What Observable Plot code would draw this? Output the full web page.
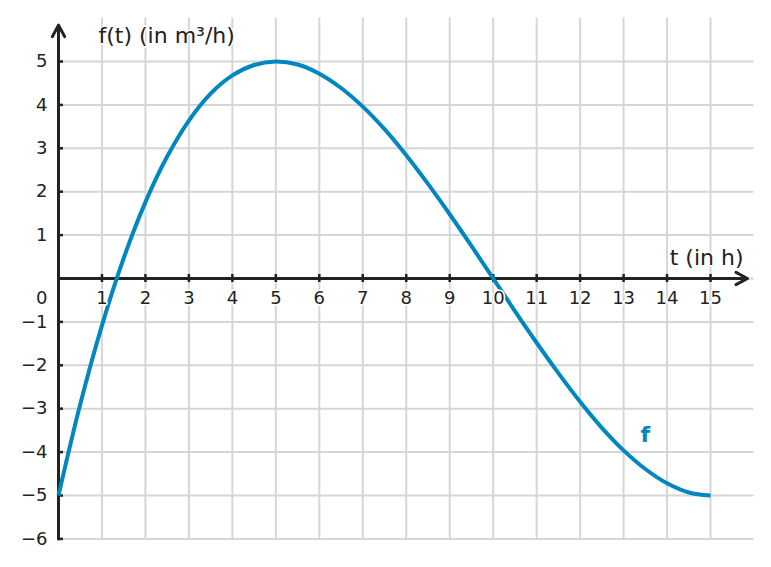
<!DOCTYPE html>
<html>
<head>
<meta charset="utf-8">
<script src="https://cdn.jsdelivr.net/npm/d3@7"></script>
<script src="https://cdn.jsdelivr.net/npm/@observablehq/plot@0.6"></script>
<style>
  html, body { margin: 0; padding: 0; background: #fff; }
</style>
</head>
<body>
<div id="chart"></div>
<script>
// Values
const tValues = [0, 0.5, 1, 1.5, 2, 2.5, 3, 3.5, 4, 4.5, 5, 5.5, 6, 6.5, 7, 7.5, 8, 8.5, 9, 9.5, 10, 10.5, 11, 11.5, 12, 12.5, 13, 13.5, 14, 14.5, 15];
const fValues = [-5, -2.9, -1.08, 0.47, 1.76, 2.81, 3.64, 4.26, 4.68, 4.92, 5, 4.93, 4.72, 4.39, 3.96, 3.44, 2.84, 2.18, 1.48, 0.75, 0, -0.75, -1.48, -2.18, -2.84, -3.44, -3.96, -4.39, -4.72, -4.93, -5];

const xTicks = [1, 2, 3, 4, 5, 6, 7, 8, 9, 10, 11, 12, 13, 14, 15];
const yTicks = [-6, -5, -4, -3, -2, -1, 1, 2, 3, 4, 5];
const yTickLabels = ["−6", "−5", "−4", "−3", "−2", "−1", "1", "2", "3", "4", "5"];
const yGrid = [-6, -5, -4, -3, -2, -1, 0, 1, 2, 3, 4, 5];
const xDomain = [0, 16];
const yDomain = [-6, 6];
const yAxisTitle = "f(t) (in m³/h)";
const xAxisTitle = "t (in h)";
const curveLabel = [{text: "f", t: 13.5, v: -3.6}];
const originLabel = "0";

const curveData = tValues.map((t, i) => ({t, f: fValues[i]}));
const yTickData = yTicks.map((v, i) => ({v, label: yTickLabels[i]}));

const ink = "#222";
const blue = "#0087bf";
const gridColor = "#d6d6d6";

const chart = Plot.plot({
  width: 771,
  height: 567,
  marginLeft: 58,
  marginRight: 17.5,
  marginTop: 17.6,
  marginBottom: 28.6,
  style: {fontFamily: "DejaVu Sans", background: "#fff", color: ink},
  x: {domain: xDomain, axis: null},
  y: {domain: yDomain, axis: null},
  marks: [
    // grid
    Plot.ruleY(yGrid, {y: d => d, stroke: gridColor, strokeWidth: 2}),
    Plot.ruleX(xTicks, {x: d => d, stroke: gridColor, strokeWidth: 2}),
    // axes with arrows
    Plot.arrow([0], {x1: xDomain[0], y1: yDomain[0], x2: xDomain[0], y2: yDomain[1], insetEnd: 7, stroke: ink, strokeWidth: 3, headLength: 6.5, headAngle: 56}),
    Plot.arrow([0], {x1: xDomain[0], y1: 0, x2: xDomain[1], y2: 0, insetEnd: 6.5, stroke: ink, strokeWidth: 3, headLength: 6.5, headAngle: 56}),
    // tick marks
    Plot.ruleX(xTicks, {x: d => d, y1: 0, y2: 0, insetTop: -4, insetBottom: -4, stroke: ink, strokeWidth: 2.5}),
    Plot.ruleY(yTicks, {y: d => d, x1: 0, x2: 0, insetRight: -5, stroke: ink, strokeWidth: 2.5}),
    // curve
    Plot.line(curveData, {x: "t", y: "f", stroke: blue, strokeWidth: 4, curve: "catmull-rom", strokeLinecap: "butt"}),
    // tick labels
    Plot.text(xTicks, {x: d => d, y: 0, dy: 19.5, text: d => String(d), fontSize: 18, fill: ink, stroke: "#fff", strokeWidth: 3}),
    Plot.text([originLabel], {x: 0, y: 0, dy: 19.5, dx: -11, textAnchor: "end", text: d => d, fontSize: 18, fill: ink}),
    Plot.text(yTickData, {x: 0, y: "v", dx: -11, textAnchor: "end", text: "label", fontSize: 18, fill: ink}),
    // axis titles
    Plot.text([yAxisTitle], {frameAnchor: "top-left", lineAnchor: "middle", dx: 40, dy: 17.4, textAnchor: "start", text: d => d, fontSize: 22, fill: ink, stroke: "#fff", strokeWidth: 3}),
    Plot.text([xAxisTitle], {frameAnchor: "right", lineAnchor: "middle", y: 0, dx: -10.5, dy: -21, textAnchor: "end", text: d => d, fontSize: 22, fill: ink, stroke: "#fff", strokeWidth: 3}),
    // curve label
    Plot.text(curveLabel, {x: "t", y: "v", text: "text", fontSize: 22, fontWeight: "bold", fill: blue})
  ]
});
document.getElementById("chart").appendChild(chart);
</script>
</body>
</html>
